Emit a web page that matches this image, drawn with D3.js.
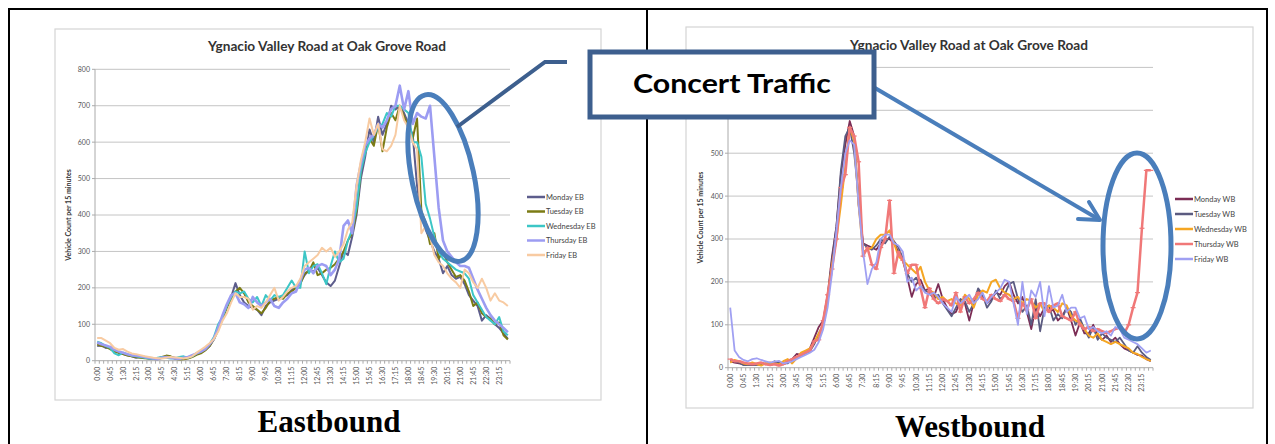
<!DOCTYPE html>
<html>
<head>
<meta charset="utf-8">
<script src="https://cdn.jsdelivr.net/npm/d3@7"></script>
<style>
  body { margin: 0; background: #fff; }
  svg { display: block; }
</style>
</head>
<body>
<svg id="chart" width="1275" height="444"></svg>
<script>
// 15-minute categories, 0:00 .. 23:45
var times = d3.range(96).map(function(i) {
  return Math.floor(i / 4) + ":" + String((i % 4) * 15).padStart(2, "0");
});
var timeLabels = times.filter(function(d, i) { return i % 3 === 0; });

var ebTicks = [0, 100, 200, 300, 400, 500, 600, 700, 800];
var wbTicks = [0, 100, 200, 300, 400, 500, 600, 700];

var ebNames = ["Monday EB", "Tuesday EB", "Wednesday EB", "Thursday EB", "Friday EB"];
var wbNames = ["Monday WB", "Tuesday WB", "Wednesday WB", "Thursday WB", "Friday WB"];

// Eastbound
var ebMonday = [40,42,35,38,28,22,18,15,12,8,10,8,
  6,5,4,8,12,10,8,6,5,8,12,18,
  22,30,40,60,90,120,150,175,213,180,160,150,
  145,140,125,150,160,165,170,175,180,195,205,215,
  235,250,245,255,235,215,205,220,260,300,290,340,
  400,500,560,635,600,670,620,650,700,690,700,680,
  650,620,480,400,360,330,300,280,240,260,235,225,
  230,210,180,165,150,110,125,115,100,90,75,60];
var ebTuesday = [45,40,38,32,25,22,18,14,12,10,8,7,
  6,5,6,10,14,12,5,3,4,6,10,16,
  20,28,40,58,85,115,145,170,190,200,185,160,
  150,140,130,145,165,170,175,170,185,190,200,210,
  240,245,270,235,240,250,255,265,280,300,330,350,
  410,520,580,610,590,650,575,640,680,660,700,670,
  640,610,665,410,380,320,350,280,300,270,250,230,
  235,220,190,150,160,130,120,115,100,105,70,58];
var ebWednesday = [52,48,40,35,20,15,22,18,14,12,10,8,
  6,5,8,10,8,6,7,10,12,8,12,20,
  25,35,45,65,100,120,150,175,190,185,190,170,
  160,175,150,180,165,180,175,180,200,220,200,200,
  300,240,260,265,240,210,260,300,270,280,330,360,
  420,520,570,600,620,640,650,680,670,700,700,690,
  680,600,600,560,430,390,340,300,280,270,260,250,
  245,240,225,180,160,140,120,110,100,120,80,70];
var ebThursday = [50,45,42,38,30,25,22,18,15,14,12,10,
  8,6,5,8,10,8,6,5,8,10,15,20,
  25,32,45,60,90,125,155,180,185,160,155,145,
  175,160,150,160,170,150,145,160,170,185,190,220,
  250,255,240,260,265,260,235,250,280,370,385,350,
  480,540,590,610,620,650,640,660,690,700,755,690,
  740,650,680,670,665,700,560,420,330,300,285,270,
  260,260,255,225,195,170,145,125,110,100,90,78];
var ebFriday = [62,62,55,48,35,30,32,25,20,18,15,12,
  10,8,7,6,8,10,9,8,6,8,12,22,
  30,38,48,60,80,110,130,160,185,175,175,170,
  140,150,145,160,180,200,165,175,190,200,205,225,
  260,270,280,290,310,300,310,285,300,320,360,380,
  480,550,600,665,620,650,580,575,590,620,700,660,
  640,600,580,350,370,340,290,270,260,240,225,215,
  200,250,240,215,200,225,200,165,185,165,160,150];

// Westbound
var wbMonday = [15,12,10,8,8,6,8,10,8,10,12,10,
  8,15,20,32,30,35,45,70,95,110,170,260,
  330,450,520,575,540,380,290,285,280,275,290,300,
  300,290,270,250,210,165,195,205,180,185,165,195,
  160,140,125,130,155,150,110,150,180,165,150,160,
  175,170,190,200,170,150,165,130,90,140,120,140,
  130,135,110,120,140,110,75,105,80,80,100,75,
  65,75,60,70,55,45,40,35,30,28,20,15];
var wbTuesday = [18,15,12,6,6,8,6,8,10,8,15,12,
  10,10,18,25,28,32,38,55,80,100,160,250,
  330,460,540,560,500,400,290,280,275,285,300,290,
  305,295,280,255,220,200,210,190,180,175,160,170,
  150,135,120,140,160,155,130,150,185,170,140,155,
  180,160,170,195,200,160,130,145,100,160,85,140,
  145,110,125,115,140,130,100,115,90,70,95,65,
  80,70,65,60,70,55,40,35,50,35,25,18];
var wbWednesday = [12,18,15,10,8,12,8,5,10,12,10,8,
  15,20,10,22,35,40,45,60,80,100,165,240,
  300,380,470,560,530,380,270,275,280,300,310,310,
  320,290,260,250,240,230,220,235,200,180,175,160,
  165,155,160,150,145,170,160,140,170,180,175,200,
  205,185,175,170,160,165,150,160,155,140,150,130,
  145,140,130,150,145,120,110,105,90,75,70,80,
  65,60,55,60,55,50,45,35,32,25,20,16];
var wbThursday = [20,15,15,12,10,8,10,12,8,6,8,5,
  8,15,20,25,30,35,40,62,65,110,170,230,
  300,420,450,560,540,480,260,280,240,230,280,300,
  390,220,270,250,220,240,240,185,140,185,160,150,
  160,155,145,175,130,165,150,160,175,160,155,170,
  160,155,170,160,155,115,150,135,160,115,150,150,
  130,145,150,120,115,110,130,100,90,95,85,90,
  85,80,85,90,95,80,100,140,175,325,460,460];
var wbFriday = [140,40,25,18,15,20,22,18,15,12,14,16,
  10,12,15,20,25,30,35,42,60,90,140,220,
  320,420,500,530,520,380,270,195,230,245,300,310,
  310,290,285,270,200,210,180,190,175,170,175,165,
  150,140,130,165,150,160,170,150,160,175,150,165,
  175,185,205,200,150,100,200,125,180,165,200,120,
  190,140,145,170,130,140,140,115,120,90,95,85,
  80,85,75,95,90,70,65,60,55,45,35,40];

var svg = d3.select("#chart");
var chartFont = "Lato, 'Liberation Sans', sans-serif";

function drawChart(c) {
  var g = svg.append("g");

  g.append("rect")
    .attr("x", c.frame[0]).attr("y", c.frame[1])
    .attr("width", c.frame[2] - c.frame[0]).attr("height", c.frame[3] - c.frame[1])
    .attr("fill", "#fff").attr("stroke", "#d4d4d4").attr("stroke-width", 1.2);

  var x = d3.scalePoint().domain(times).range([c.left, c.right]).padding(0.5);
  var y = d3.scaleLinear().domain([0, c.yMax]).range([c.bottom, c.top]);
  var step = x.step();

  // gridlines + y labels
  g.selectAll(".grid").data(c.yTicks.slice(1)).enter().append("line")
    .attr("x1", c.left).attr("x2", c.right)
    .attr("y1", function(d) { return y(d); }).attr("y2", function(d) { return y(d); })
    .attr("stroke", "#c4c4c4").attr("stroke-width", 1);

  // labels hidden under the callout box are left out
  g.selectAll(".ylab").data(c.yTicks.filter(function(d) { return d <= c.labelMax; }))
    .enter().append("text")
    .attr("x", c.left - 5).attr("y", function(d) { return y(d); })
    .attr("dy", "0.35em").attr("text-anchor", "end")
    .attr("font-family", chartFont).attr("font-size", 7).attr("fill", "#555")
    .text(function(d) { return d; });

  g.selectAll(".ytick").data(c.yTicks).enter().append("line")
    .attr("x1", c.left - 3).attr("x2", c.left)
    .attr("y1", function(d) { return y(d); }).attr("y2", function(d) { return y(d); })
    .attr("stroke", "#aaa");

  // axes
  g.append("line").attr("x1", c.left).attr("x2", c.left)
    .attr("y1", c.top).attr("y2", c.bottom).attr("stroke", "#aaa");
  g.append("line").attr("x1", c.left).attr("x2", c.right)
    .attr("y1", c.bottom).attr("y2", c.bottom).attr("stroke", "#aaa");

  g.selectAll(".xtick").data(d3.range(97)).enter().append("line")
    .attr("x1", function(d) { return c.left + d * step; })
    .attr("x2", function(d) { return c.left + d * step; })
    .attr("y1", c.bottom).attr("y2", c.bottom + 3)
    .attr("stroke", "#aaa");

  g.selectAll(".xlab").data(timeLabels).enter().append("text")
    .attr("transform", function(d) {
      return "translate(" + x(d) + "," + (c.bottom + 6) + ") rotate(-90)";
    })
    .attr("dy", "0.35em").attr("text-anchor", "end")
    .attr("font-family", chartFont).attr("font-size", 7).attr("fill", "#555")
    .text(function(d) { return d; });

  // y title
  g.append("text")
    .attr("transform", "translate(" + c.yTitleX + "," + ((c.top + c.bottom) / 2) + ") rotate(-90)")
    .attr("text-anchor", "middle").attr("dy", "0.35em")
    .attr("font-family", chartFont).attr("font-size", 7).attr("font-weight", "bold")
    .attr("fill", "#333")
    .text("Vehicle Count per 15 minutes");

  // title
  g.append("text")
    .attr("x", c.titleX).attr("y", c.titleY)
    .attr("text-anchor", "middle")
    .attr("font-family", chartFont).attr("font-size", 12.5).attr("font-weight", "bold")
    .attr("fill", "#333")
    .attr("textLength", 238).attr("lengthAdjust", "spacingAndGlyphs")
    .text("Ygnacio Valley Road at Oak Grove Road");

  var line = d3.line()
    .x(function(d, i) { return x(times[i]); })
    .y(function(d) { return y(d); });

  c.series.forEach(function(s) {
    g.append("path")
      .datum(s.values)
      .attr("d", line)
      .attr("fill", "none")
      .attr("stroke", s.color)
      .attr("stroke-width", s.width)
      .attr("stroke-linejoin", "round");
    if (s.markers) {
      g.selectAll(null).data(s.values).enter().append("line")
        .attr("x1", function(d, i) { return x(times[i]) - 2.5; })
        .attr("x2", function(d, i) { return x(times[i]) + 2.5; })
        .attr("y1", function(d) { return y(d); })
        .attr("y2", function(d) { return y(d); })
        .attr("stroke", s.color).attr("stroke-width", 1.2);
    }
  });

  // legend
  c.series.forEach(function(s, k) {
    var ly = c.legendY + k * c.legendDy;
    g.append("line")
      .attr("x1", c.legendX).attr("x2", c.legendX + 18)
      .attr("y1", ly).attr("y2", ly)
      .attr("stroke", s.color).attr("stroke-width", 2.5);
    g.append("text")
      .attr("x", c.legendX + 19).attr("y", ly).attr("dy", "0.35em")
      .attr("font-family", chartFont).attr("font-size", 7.5).attr("fill", "#444")
      .text(s.name);
  });

  // caption below the chart
  g.append("text")
    .attr("x", c.captionX).attr("y", c.captionY)
    .attr("text-anchor", "middle")
    .attr("font-family", "'Liberation Serif', 'Times New Roman', serif")
    .attr("font-weight", "bold").attr("font-size", c.captionSize)
    .attr("fill", "#000")
    .text(c.caption);
}

drawChart({
  frame: [55, 29, 601, 400],
  left: 95, right: 510, top: 69.3, bottom: 360.7,
  yMax: 800, yTicks: ebTicks, labelMax: 800,
  yTitleX: 69, titleX: 327, titleY: 51,
  legendX: 527, legendY: 197, legendDy: 14.5,
  caption: "Eastbound", captionX: 329, captionY: 432, captionSize: 31,
  series: [
    {name: ebNames[0], color: "#5d5d8c", width: 2, values: ebMonday},
    {name: ebNames[1], color: "#7b7b14", width: 2, values: ebTuesday},
    {name: ebNames[2], color: "#3cc6c6", width: 2, values: ebWednesday},
    {name: ebNames[3], color: "#9c9cf2", width: 2.6, values: ebThursday},
    {name: ebNames[4], color: "#f8cba2", width: 2, values: ebFriday}
  ]
});

drawChart({
  frame: [686, 27, 1253, 408],
  left: 728, right: 1153, top: 67.4, bottom: 367.7,
  yMax: 700, yTicks: wbTicks, labelMax: 500,
  yTitleX: 701, titleX: 969, titleY: 50,
  legendX: 1175, legendY: 199, legendDy: 15,
  caption: "Westbound", captionX: 970, captionY: 437, captionSize: 31,
  series: [
    {name: wbNames[0], color: "#7b2d55", width: 1.8, values: wbMonday},
    {name: wbNames[1], color: "#5b5b80", width: 1.8, values: wbTuesday},
    {name: wbNames[2], color: "#f5a623", width: 2, values: wbWednesday},
    {name: wbNames[3], color: "#f07878", width: 2.5, values: wbThursday, markers: true},
    {name: wbNames[4], color: "#a0a0f2", width: 1.8, values: wbFriday}
  ]
});

// table borders
var borders = svg.append("g").attr("stroke", "#000").attr("stroke-width", 2);
borders.append("line").attr("x1", 8).attr("x2", 1268).attr("y1", 9).attr("y2", 9);
borders.append("line").attr("x1", 9).attr("x2", 9).attr("y1", 8).attr("y2", 444);
borders.append("line").attr("x1", 647).attr("x2", 647).attr("y1", 8).attr("y2", 444);
borders.append("line").attr("x1", 1267).attr("x2", 1267).attr("y1", 8).attr("y2", 444);

// annotations
var ann = svg.append("g");
ann.append("ellipse")
  .attr("cx", 443).attr("cy", 178).attr("rx", 31).attr("ry", 85)
  .attr("transform", "rotate(-12,443,178)")
  .attr("fill", "none").attr("stroke", "#4a7ebb").attr("stroke-width", 5);
ann.append("ellipse")
  .attr("cx", 1137).attr("cy", 246).attr("rx", 34).attr("ry", 93)
  .attr("fill", "none").attr("stroke", "#4a7ebb").attr("stroke-width", 5);

ann.append("polyline")
  .attr("points", "457,127 545,62 567,62")
  .attr("fill", "none").attr("stroke", "#3d5f8e").attr("stroke-width", 4);

ann.append("line")
  .attr("x1", 875).attr("y1", 88).attr("x2", 1100).attr("y2", 220)
  .attr("stroke", "#4a7ebb").attr("stroke-width", 4);
ann.append("polyline")
  .attr("points", "1078,219 1100,220 1089,202")
  .attr("fill", "none").attr("stroke", "#4a7ebb").attr("stroke-width", 4)
  .attr("stroke-linecap", "round").attr("stroke-linejoin", "round");

ann.append("rect")
  .attr("x", 590).attr("y", 52).attr("width", 284).attr("height", 65)
  .attr("fill", "#fff").attr("stroke", "#3d5f8e").attr("stroke-width", 5);
ann.append("text")
  .attr("x", 732).attr("y", 93).attr("text-anchor", "middle")
  .attr("font-family", "Lato, 'Liberation Sans', sans-serif")
  .attr("font-weight", "bold").attr("font-size", 26)
  .attr("textLength", 198).attr("lengthAdjust", "spacingAndGlyphs")
  .attr("fill", "#000")
  .text("Concert Traffic");
</script>
</body>
</html>
